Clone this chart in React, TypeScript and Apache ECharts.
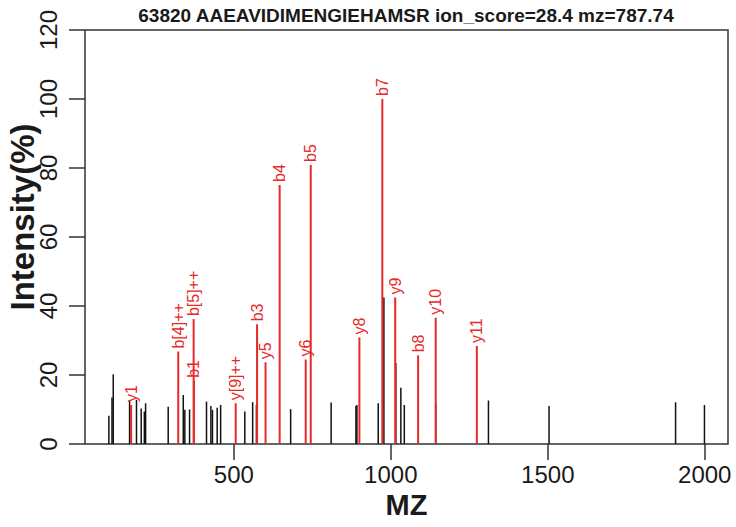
import React, { useEffect, useRef } from "react";
import * as echarts from "echarts";

const titleText = "63820 AAEAVIDIMENGIEHAMSR ion_score=28.4 mz=787.74";
const yName = "Intensity(%)";
const xTicks = [500, 1000, 1500, 2000];

const blackMz = [102, 112, 116, 168, 190, 205, 215, 219, 291, 339, 344, 359, 413, 427, 432, 447, 458, 535, 560, 572, 681, 810, 889, 892, 960, 978, 1016, 1032, 1043, 1143, 1311, 1504, 1907, 1999];
const blackInt = [8.2, 13.5, 20.2, 12.5, 12.8, 10.3, 9.4, 11.8, 10.8, 14.2, 9.9, 10.0, 12.3, 11.0, 9.9, 10.5, 11.3, 9.4, 12.1, 11.3, 10.1, 12.0, 11.0, 11.3, 11.8, 42.5, 23.5, 16.3, 11.3, 11.8, 12.6, 11.0, 12.1, 11.3];

const redLabels = ["y1", "b[4]++", "b[5]++", "b1", "y[9]++", "b3", "y5", "b4", "y6", "b5", "y8", "b7", "y9", "b8", "y10", "y11"];
const redMz = [173, 323, 372, 373, 506, 574, 601, 646, 729, 745, 900, 973, 1014, 1087, 1143, 1274];
const redInt = [11.3, 26.8, 36.2, 18.3, 11.8, 34.7, 23.7, 75.1, 24.5, 80.9, 30.9, 100, 42.5, 25.7, 36.6, 28.4];

const FONT = "Liberation Sans";
const RED = "#e62a2a";

export default function App() {
  const ref = useRef<HTMLDivElement>(null);
  useEffect(() => {
    document.body.style.margin = "0";
    const chart = echarts.init(ref.current!, null, { renderer: "svg" });
    const blackData = blackMz.map((m, i) => [m, blackInt[i]]);
    const redData = redMz.map((m, i) => [m, redInt[i]]);
    const makeRender = (color: string, width: number, labels: string[] | null) =>
      (params: any, api: any) => {
        const x = api.value(0);
        const y = api.value(1);
        const p0 = api.coord([x, 0]);
        const p1 = api.coord([x, y]);
        const children: any[] = [
          {
            type: "line",
            shape: { x1: p0[0], y1: p0[1], x2: p1[0], y2: p1[1] },
            style: { stroke: color, lineWidth: width },
          },
        ];
        if (labels) {
          children.push({
            type: "text",
            x: p1[0],
            y: p1[1] - 3,
            rotation: Math.PI / 2,
            style: {
              text: labels[params.dataIndex],
              fill: color,
              fontFamily: FONT,
              fontSize: 16,
              align: "left",
              verticalAlign: "middle",
            },
          });
        }
        return { type: "group", children };
      };
    chart.setOption({
      animation: false,
      backgroundColor: "#ffffff",
      textStyle: { fontFamily: FONT },
      grid: {
        left: 85,
        right: 8,
        top: 30,
        bottom: 83,
        show: true,
        borderColor: "#333",
        borderWidth: 1.5,
        containLabel: false,
        outerBoundsMode: "none",
      },
      graphic: [
        {
          type: "text",
          x: 406,
          y: 15,
          style: {
            text: titleText,
            fontFamily: FONT,
            fontWeight: "bold",
            fontSize: 19,
            fill: "#1a1a1a",
            align: "center",
            verticalAlign: "middle",
          },
        },
        {
          type: "text",
          x: 22,
          y: 217,
          rotation: Math.PI / 2,
          style: {
            text: yName,
            fontFamily: FONT,
            fontWeight: "bold",
            fontSize: 33,
            fill: "#1a1a1a",
            align: "center",
            verticalAlign: "middle",
          },
        },
      ],
      xAxis: {
        type: "value",
        min: 26,
        max: 2074,
        name: "MZ",
        nameLocation: "middle",
        nameGap: 45,
        nameTextStyle: { fontFamily: FONT, fontWeight: "bold", fontSize: 29, color: "#1a1a1a" },
        axisLine: { show: false },
        axisTick: { show: true, length: 16, customValues: xTicks, lineStyle: { color: "#333", width: 1.5 } },
        axisLabel: { customValues: xTicks, fontSize: 24, color: "#1a1a1a", margin: 18, fontFamily: FONT, formatter: (v: number) => String(v) },
        splitLine: { show: false },
      },
      yAxis: {
        type: "value",
        min: 0,
        max: 120,
        interval: 20,
        axisLine: { show: false },
        axisTick: { show: true, length: 16, lineStyle: { color: "#333", width: 1.5 } },
        axisLabel: { rotate: 90, fontSize: 24, color: "#1a1a1a", margin: 25, fontFamily: FONT, formatter: (v: number) => String(v) },
        splitLine: { show: false },
      },
      series: [
        {
          type: "custom",
          data: blackData,
          encode: { x: 0, y: 1 },
          renderItem: makeRender("#111", 1.5, null),
          clip: false,
        },
        {
          type: "custom",
          data: redData,
          encode: { x: 0, y: 1 },
          renderItem: makeRender(RED, 2, redLabels),
          clip: false,
        },
      ],
    });
    return () => chart.dispose();
  }, []);
  return <div ref={ref} style={{ width: 736, height: 527 }} />;
}
